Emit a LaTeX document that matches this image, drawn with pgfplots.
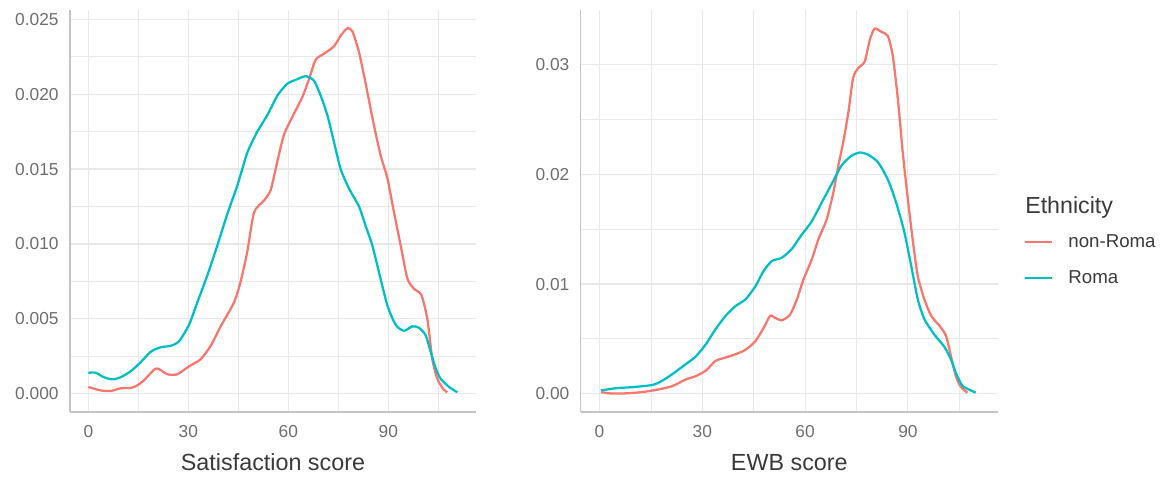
\documentclass[border=0pt]{standalone}
\usepackage{fontspec}
\setmainfont{Liberation Sans}
\usepackage{pgfplots}
\pgfplotsset{compat=1.18}

\definecolor{nonroma}{HTML}{F8766D}
\definecolor{roma}{HTML}{00BFC4}
\definecolor{gridc}{HTML}{E8E8E8}
\definecolor{axisc}{HTML}{C4C4C4}
\definecolor{tickc}{HTML}{6E6E6E}
\definecolor{titlec}{HTML}{3A3A3A}

% one ggplot-like panel
\pgfplotsset{
  panel/.style={
    scale only axis, height=301.5pt,
    axis x line=bottom, axis y line=left,
    axis line style={-, draw=axisc, line width=1pt},
    major tick length=0pt, minor tick length=0pt,
    grid=both,
    major grid style={draw=gridc, line width=0.9pt},
    minor grid style={draw=gridc, line width=0.6pt},
    /pgf/number format/assume math mode=true,
    tick label style={font=\fontsize{13}{15}\selectfont, text=tickc},
    yticklabel style={xshift=-5pt},
    xticklabel style={yshift=-6.5pt},
    label style={font=\fontsize{17.5}{20}\selectfont, text=titlec},
    xlabel style={at={(axis description cs:0.5,0)}, anchor=base, yshift=-44pt},
    xmin=-5.5, xmax=116.3,
    xtick={0,30,60,90}, minor xtick={15,45,75,105},
    xticklabels={0,30,60,90},
    scaled y ticks=false,
  },
  curve/.style={line width=1.7pt, smooth, tension=0.4, no markers},
}

\begin{document}
\begin{tikzpicture}

%% left panel: satisfaction
\begin{axis}[panel, width=304.5pt,
  ymin=-0.00122, ymax=0.02562,
  ytick={0,0.005,0.01,0.015,0.02,0.025},
  yticklabels={0.000,0.005,0.010,0.015,0.020,0.025},
  minor ytick={0.0025,0.0075,0.0125,0.0175,0.0225},
  xlabel={Satisfaction score}]

\addplot[curve, draw=nonroma] coordinates {
(0,0.00045) (3.7,0.00022) (6.7,0.00018) (9.7,0.00036) (13,0.0004)
(14.7,0.00056) (16.7,0.0009) (19.7,0.0016) (21,0.00167) (23.7,0.0013)
(26.7,0.0013) (30,0.0018) (33.7,0.0023) (36.7,0.0032) (39.7,0.0045)
(43.7,0.0061) (45.7,0.0075) (47.7,0.0095) (49.7,0.0121) (52.7,0.0129)
(54.7,0.0136) (56.7,0.0155) (58.7,0.0173) (61.7,0.0187) (64.2,0.0198)
(66.2,0.0210) (68.2,0.0223) (70.7,0.0227) (73.7,0.0232) (75.7,0.0239)
(77.7,0.0244) (79.2,0.0242) (81.2,0.0228) (83.2,0.0207) (85.7,0.0179)
(87.7,0.0159) (89.7,0.0144) (91.7,0.0121) (93.7,0.0099) (95.7,0.0077)
(97.7,0.0070) (99.9,0.0066) (101.7,0.0050) (103.2,0.0023) (104.7,0.0010)
(106.5,0.0003) (107.7,0.0001)
};

\addplot[curve, draw=roma] coordinates {
(0,0.0014) (2.2,0.0014) (4.7,0.0011) (7.2,0.00096) (9.7,0.0011)
(12.7,0.0015) (15.7,0.0021) (18.7,0.0028) (21.7,0.0031) (24.7,0.0032)
(27.2,0.0035) (30.2,0.0046) (32.7,0.0061) (35.7,0.0079) (38.7,0.0099)
(41.7,0.0120) (44.7,0.0139) (47.7,0.0161) (50.7,0.0175) (53.7,0.0186)
(56.7,0.0199) (59.7,0.0207) (62.7,0.0210) (65.2,0.0212) (67.7,0.0209)
(69.7,0.0199) (71.7,0.0186) (73.7,0.0168) (75.7,0.0150) (78.2,0.0137)
(81.2,0.0125) (83.2,0.0112) (85.2,0.0099) (87.2,0.0081) (89.7,0.0059)
(92.2,0.0046) (94.7,0.0042) (97.2,0.0045) (99.2,0.0044) (101.2,0.0039)
(102.7,0.0028) (104.2,0.0017) (105.7,0.0010) (108.2,0.00045) (110.7,0.0001)
};
\end{axis}

%% right panel: EWB
\begin{axis}[panel, at={(383pt,0pt)}, width=313pt, clip mode=individual,
  ymin=-0.00167, ymax=0.035,
  ytick={0,0.01,0.02,0.03},
  yticklabels={0.00,0.01,0.02,0.03},
  minor ytick={0.005,0.015,0.025},
  xlabel={EWB score},
  legend style={draw=none, fill=none, inner sep=0pt,
    at={(1.062,0.378)}, anchor=west,
    font=\fontsize{14}{16}\selectfont, text=titlec,
    row sep=12pt, cells={anchor=west}},
  legend image code/.code={%
    \draw[#1, line width=1.5pt] (0pt,0pt) -- (20pt,0pt);
    \path[draw=none] (0pt,0pt) -- (30.5pt,0pt);}]

\addplot[curve, draw=nonroma] coordinates {
(0.5,0.00015) (2.9,0.00003) (7.7,0.00003) (12.6,0.00015) (17.4,0.0004)
(21.3,0.0007) (25.2,0.0013) (28.1,0.0016) (31,0.0021) (33.9,0.0030)
(36.8,0.0033) (39.7,0.0036) (42.6,0.0040) (45.5,0.0048) (47.9,0.0060)
(49.8,0.0071) (51.3,0.0069) (53.2,0.0067) (55.6,0.0072) (57.6,0.0086)
(59.5,0.0104) (61.9,0.0122) (63.9,0.0141) (66.3,0.0159) (68.2,0.0183)
(69.7,0.0208) (71.1,0.0229) (72.6,0.0256) (74.0,0.0288) (75.5,0.0297)
(77.4,0.0303) (78.9,0.0323) (80.3,0.0333) (82.3,0.0330) (84.2,0.0326)
(85.6,0.0308) (87.1,0.0268) (88.5,0.0220) (90,0.0177) (91.5,0.0138)
(92.9,0.0107) (94.8,0.0086) (96.8,0.0071) (99.2,0.0062) (101.1,0.0053)
(102.6,0.0034) (104.0,0.0016) (105.5,0.0006) (107.4,0.0001)
};
\addlegendentry{non-Roma}

\addplot[curve, draw=roma] coordinates {
(0.5,0.0003) (4.8,0.0005) (9.7,0.0006) (15.5,0.0008) (18.4,0.0012)
(21.3,0.0018) (25.2,0.0027) (28.1,0.0034) (31,0.0045) (33.9,0.0059)
(36.8,0.0071) (39.7,0.0080) (42.6,0.0086) (45.5,0.0098) (47.9,0.0112)
(50.3,0.0121) (53.2,0.0124) (56.1,0.0132) (59.0,0.0145) (61.9,0.0157)
(64.8,0.0174) (67.7,0.0191) (70.6,0.0208) (73.5,0.0217) (76,0.0220)
(78.4,0.0218) (81.3,0.0211) (84.2,0.0195) (86.6,0.0174) (89.0,0.0147)
(91.0,0.0116) (92.9,0.0086) (94.8,0.0068) (97.7,0.0054) (100.6,0.0043)
(102.6,0.0031) (104,0.0019) (106,0.0007) (109.8,0.0001)
};
\addlegendentry{Roma}

\node[anchor=base west, font=\fontsize{17.4}{20}\selectfont, text=titlec, inner sep=0pt]
  at (rel axis cs:1.0647,0.495) {Ethnicity};
\end{axis}

\pgfresetboundingbox
\path[use as bounding box] (-52.5pt,-49.5pt) rectangle (823.5pt,309pt);
\end{tikzpicture}
\end{document}
